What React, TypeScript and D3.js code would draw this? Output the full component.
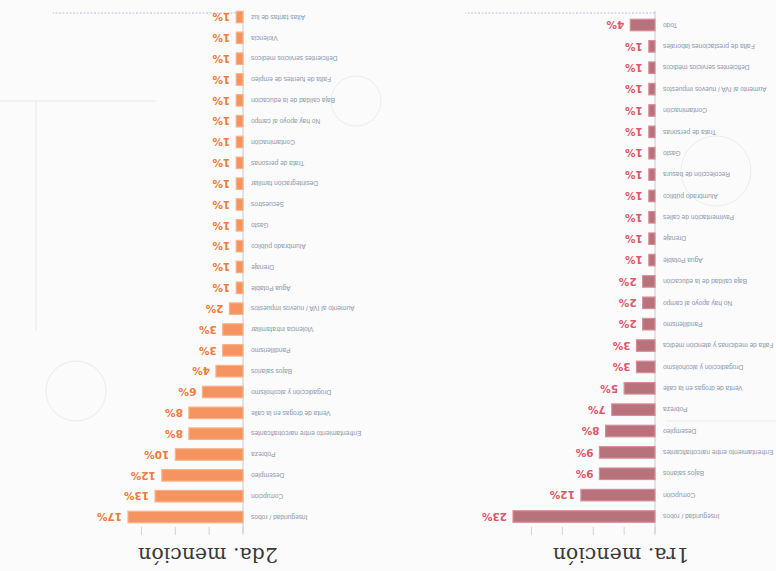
import React from "react";
import * as d3 from "d3";

const W = 776;
const H = 571;

const cats1 = [
  "Inseguridad / robos",
  "Corrupción",
  "Bajos salarios",
  "Enfrentamiento entre narcotraficantes",
  "Desempleo",
  "Pobreza",
  "Venta de drogas en la calle",
  "Drogadicción y alcoholismo",
  "Falta de medicinas y atención médica",
  "Pandillerismo",
  "No hay apoyo al campo",
  "Baja calidad de la educación",
  "Agua Potable",
  "Drenaje",
  "Pavimentación de calles",
  "Alumbrado público",
  "Recolección de basura",
  "Gasto",
  "Trata de personas",
  "Contaminación",
  "Aumento al IVA / nuevos impuestos",
  "Deficientes servicios médicos",
  "Falta de prestaciones laborales",
  "Todo",
];
const vals1 = [23, 12, 9, 9, 8, 7, 5, 3, 3, 2, 2, 2, 1, 1, 1, 1, 1, 1, 1, 1, 1, 1, 1, 4];

const cats2 = [
  "Inseguridad / robos",
  "Corrupción",
  "Desempleo",
  "Pobreza",
  "Enfrentamiento entre narcotraficantes",
  "Venta de drogas en la calle",
  "Drogadicción y alcoholismo",
  "Bajos salarios",
  "Pandillerismo",
  "Violencia intrafamiliar",
  "Aumento al IVA / nuevos impuestos",
  "Agua Potable",
  "Drenaje",
  "Alumbrado público",
  "Gasto",
  "Secuestros",
  "Desintegración familiar",
  "Trata de personas",
  "Contaminación",
  "No hay apoyo al campo",
  "Baja calidad de la educación",
  "Falta de fuentes de empleo",
  "Deficientes servicios médicos",
  "Violencia",
  "Altas tarifas de luz",
];
const vals2 = [17, 13, 12, 10, 8, 8, 6, 4, 3, 3, 2, 1, 1, 1, 1, 1, 1, 1, 1, 1, 1, 1, 1, 1, 1];

const titles = ["1ra. mención", "2da. mención"];
const ticks1 = [0, 5, 10, 15, 20];
const ticks2 = [0, 5, 10, 15];

type PanelProps = {
  cats: string[];
  vals: number[];
  x0: number;
  x1: number;
  maxV: number;
  yTop: number;
  yBot: number;
  title: string;
  titleX: number;
  fill: string;
  edge: string;
  txt: string;
  ticks: number[];
};

function Panel(p: PanelProps) {
  const x = d3.scaleLinear().domain([0, p.maxV]).range([p.x0, p.x1]);
  const y = d3
    .scalePoint<string>()
    .domain(p.cats)
    .range([p.yTop, p.yBot]);
  const bh = 11.5;
  return (
    <g>
      <line x1={p.x0} x2={p.x0} y1={38} y2={560} stroke="#c8ccd4" strokeWidth={1} />
      {p.ticks.map((t) => (
        <line key={t} x1={x(t)} x2={x(t)} y1={36} y2={44} stroke="#d0d3da" strokeWidth={1} />
      ))}
      <line
        x1={p.x0}
        x2={p.x0 + 190}
        y1={558}
        y2={558}
        stroke="#b9c2d6"
        strokeWidth={1.2}
        strokeDasharray="2,1.5"
      />
      {p.cats.map((c, i) => {
        const cy = y(c) as number;
        const v = p.vals[i];
        return (
          <g key={c}>
            <rect
              x={p.x0}
              y={cy - bh / 2}
              width={x(v) - p.x0}
              height={bh}
              fill={p.fill}
              stroke={p.edge}
              strokeWidth={1.2}
            />
            <text
              x={p.x0 - 8}
              y={cy}
              dy="0.35em"
              textAnchor="end"
              fontFamily="'Liberation Sans', Arial, sans-serif"
              fontSize={6.6}
              fill="#8a97ae"
            >
              {c}
            </text>
            <text
              x={x(v) + 6}
              y={cy}
              dy="0.36em"
              textAnchor="start"
              fontFamily="'DejaVu Sans', sans-serif"
              fontWeight="bold"
              fontSize={10.5}
              fill={p.txt}
            >
              {v + "%"}
            </text>
          </g>
        );
      })}
      <text
        x={p.titleX}
        y={23}
        textAnchor="middle"
        fontFamily="'DejaVu Serif', 'Liberation Serif', serif"
        fontSize={20.5}
        fill="#3a3a3a"
      >
        {p.title}
      </text>
    </g>
  );
}

export default function App() {
  return (
    <svg
      width={W}
      height={H}
      viewBox={`0 0 ${W} ${H}`}
      style={{ position: "absolute", left: 0, top: 0, background: "#fdfdfd" }}
    >
      <rect x={0} y={0} width={W} height={H} fill="#fbfbfb" />
      <g transform={`rotate(180 ${W / 2} ${H / 2})`}>
        <g opacity={0.22} stroke="#9aa3b5" fill="none" strokeWidth={0.8}>
          <circle cx={60} cy={400} r={35} />
          <circle cx={700} cy={180} r={30} />
          <circle cx={420} cy={470} r={25} />
          <line x1={0} y1={150} x2={110} y2={150} />
          <line x1={740} y1={240} x2={740} y2={470} />
          <line x1={620} y1={470} x2={776} y2={470} />
        </g>
        <Panel
          cats={cats1}
          vals={vals1}
          x0={121}
          x1={263}
          maxV={23}
          yTop={54.5}
          yBot={546}
          title={titles[0]}
          titleX={155}
          fill="#b8727b"
          edge="#d98c97"
          txt="#e0566a"
          ticks={ticks1}
        />
        <Panel
          cats={cats2}
          vals={vals2}
          x0={533}
          x1={648}
          maxV={17}
          yTop={54}
          yBot={554}
          title={titles[1]}
          titleX={568}
          fill="#f59460"
          edge="#f9b288"
          txt="#f07a3a"
          ticks={ticks2}
        />
      </g>
    </svg>
  );
}
